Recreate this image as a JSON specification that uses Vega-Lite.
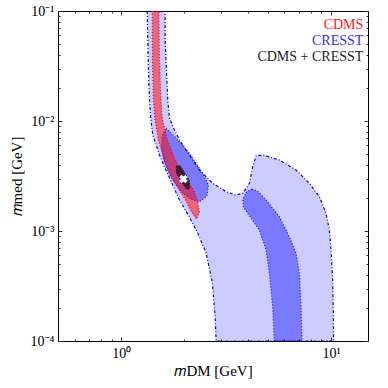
{
  "$schema": "https://vega.github.io/schema/vega-lite/v6.json",
  "autosize": "none",
  "width": 310,
  "height": 330,
  "padding": {"left": 58, "top": 11, "right": 20, "bottom": 47},
  "background": "white",
  "config": {"view": {"stroke": null}},
  "datasets": {
    "outer": [
      {"i": 1, "mdm": 1.330, "mmed": 0.1},
      {"i": 2, "mdm": 1.339, "mmed": 0.05451},
      {"i": 3, "mdm": 1.349, "mmed": 0.02908},
      {"i": 4, "mdm": 1.364, "mmed": 0.01552},
      {"i": 5, "mdm": 1.386, "mmed": 0.01021},
      {"i": 6, "mdm": 1.414, "mmed": 0.007459},
      {"i": 7, "mdm": 1.468, "mmed": 0.006049},
      {"i": 8, "mdm": 1.522, "mmed": 0.004908},
      {"i": 9, "mdm": 1.608, "mmed": 0.003818},
      {"i": 10, "mdm": 1.717, "mmed": 0.002908},
      {"i": 11, "mdm": 1.895, "mmed": 0.001913},
      {"i": 12, "mdm": 2.115, "mmed": 0.001341},
      {"i": 13, "mdm": 2.316, "mmed": 0.000953},
      {"i": 14, "mdm": 2.540, "mmed": 0.000631},
      {"i": 15, "mdm": 2.721, "mmed": 0.0003368},
      {"i": 16, "mdm": 2.803, "mmed": 0.0001652},
      {"i": 17, "mdm": 2.834, "mmed": 0.0001},
      {"i": 18, "mdm": 10.29, "mmed": 0.0001},
      {"i": 19, "mdm": 10.26, "mmed": 0.0001652},
      {"i": 20, "mdm": 10.18, "mmed": 0.0003584},
      {"i": 21, "mdm": 10.0, "mmed": 0.0006719},
      {"i": 22, "mdm": 9.815, "mmed": 0.001021},
      {"i": 23, "mdm": 9.467, "mmed": 0.001448},
      {"i": 24, "mdm": 8.797, "mmed": 0.00205},
      {"i": 25, "mdm": 7.883, "mmed": 0.002714},
      {"i": 26, "mdm": 6.813, "mmed": 0.003585},
      {"i": 27, "mdm": 5.673, "mmed": 0.004419},
      {"i": 28, "mdm": 4.725, "mmed": 0.004908},
      {"i": 29, "mdm": 4.394, "mmed": 0.004806},
      {"i": 30, "mdm": 4.233, "mmed": 0.003841},
      {"i": 31, "mdm": 4.083, "mmed": 0.002714},
      {"i": 32, "mdm": 3.794, "mmed": 0.002202},
      {"i": 33, "mdm": 3.502, "mmed": 0.002125},
      {"i": 34, "mdm": 3.162, "mmed": 0.002277},
      {"i": 35, "mdm": 2.731, "mmed": 0.002714},
      {"i": 36, "mdm": 2.359, "mmed": 0.003585},
      {"i": 37, "mdm": 2.115, "mmed": 0.004908},
      {"i": 38, "mdm": 1.895, "mmed": 0.006721},
      {"i": 39, "mdm": 1.794, "mmed": 0.008282},
      {"i": 40, "mdm": 1.698, "mmed": 0.01065},
      {"i": 41, "mdm": 1.667, "mmed": 0.01552},
      {"i": 42, "mdm": 1.643, "mmed": 0.02908},
      {"i": 43, "mdm": 1.620, "mmed": 0.05451},
      {"i": 44, "mdm": 1.620, "mmed": 0.1},
      {"i": 45, "mdm": 1.330, "mmed": 0.1}
    ],
    "blob": [
      {"i": 1, "mdm": 1.638, "mmed": 0.008584},
      {"i": 2, "mdm": 1.827, "mmed": 0.007007},
      {"i": 3, "mdm": 2.115, "mmed": 0.005087},
      {"i": 4, "mdm": 2.446, "mmed": 0.003345},
      {"i": 5, "mdm": 2.604, "mmed": 0.002619},
      {"i": 6, "mdm": 2.562, "mmed": 0.00208},
      {"i": 7, "mdm": 2.359, "mmed": 0.001846},
      {"i": 8, "mdm": 2.138, "mmed": 0.001954},
      {"i": 9, "mdm": 1.916, "mmed": 0.00231},
      {"i": 10, "mdm": 1.736, "mmed": 0.003033},
      {"i": 11, "mdm": 1.608, "mmed": 0.00415},
      {"i": 12, "mdm": 1.555, "mmed": 0.005683},
      {"i": 13, "mdm": 1.573, "mmed": 0.007459},
      {"i": 14, "mdm": 1.638, "mmed": 0.008584}
    ],
    "band": [
      {"i": 1, "mdm": 4.196, "mmed": 0.002409},
      {"i": 2, "mdm": 3.951, "mmed": 0.002262},
      {"i": 3, "mdm": 3.802, "mmed": 0.001954},
      {"i": 4, "mdm": 3.823, "mmed": 0.001652},
      {"i": 5, "mdm": 4.008, "mmed": 0.001448},
      {"i": 6, "mdm": 4.556, "mmed": 0.001021},
      {"i": 7, "mdm": 4.903, "mmed": 0.0006719},
      {"i": 8, "mdm": 5.084, "mmed": 0.0004125},
      {"i": 9, "mdm": 5.271, "mmed": 0.000205},
      {"i": 10, "mdm": 5.37, "mmed": 0.0001},
      {"i": 11, "mdm": 7.276, "mmed": 0.0001},
      {"i": 12, "mdm": 7.197, "mmed": 0.000205},
      {"i": 13, "mdm": 7.063, "mmed": 0.0004125},
      {"i": 14, "mdm": 6.813, "mmed": 0.0006271},
      {"i": 15, "mdm": 6.331, "mmed": 0.0008877},
      {"i": 16, "mdm": 5.673, "mmed": 0.001349},
      {"i": 17, "mdm": 4.903, "mmed": 0.001913},
      {"i": 18, "mdm": 4.457, "mmed": 0.00231},
      {"i": 19, "mdm": 4.196, "mmed": 0.002409}
    ],
    "cdms": [
      {"i": 1, "mdm": 1.405, "mmed": 0.1},
      {"i": 2, "mdm": 1.409, "mmed": 0.03585},
      {"i": 3, "mdm": 1.425, "mmed": 0.01552},
      {"i": 4, "mdm": 1.449, "mmed": 0.01021},
      {"i": 5, "mdm": 1.505, "mmed": 0.006721},
      {"i": 6, "mdm": 1.608, "mmed": 0.004419},
      {"i": 7, "mdm": 1.717, "mmed": 0.003229},
      {"i": 8, "mdm": 1.895, "mmed": 0.002359},
      {"i": 9, "mdm": 2.024, "mmed": 0.001913},
      {"i": 10, "mdm": 2.162, "mmed": 0.001488},
      {"i": 11, "mdm": 2.283, "mmed": 0.001285},
      {"i": 12, "mdm": 2.359, "mmed": 0.001488},
      {"i": 13, "mdm": 2.308, "mmed": 0.001913},
      {"i": 14, "mdm": 2.209, "mmed": 0.002359},
      {"i": 15, "mdm": 2.001, "mmed": 0.003229},
      {"i": 16, "mdm": 1.813, "mmed": 0.004419},
      {"i": 17, "mdm": 1.661, "mmed": 0.006721},
      {"i": 18, "mdm": 1.573, "mmed": 0.01021},
      {"i": 19, "mdm": 1.547, "mmed": 0.01552},
      {"i": 20, "mdm": 1.522, "mmed": 0.03585},
      {"i": 21, "mdm": 1.51, "mmed": 0.1},
      {"i": 22, "mdm": 1.405, "mmed": 0.1}
    ],
    "combo": [
      {"i": 1, "mdm": 1.833, "mmed": 0.003899},
      {"i": 2, "mdm": 1.916, "mmed": 0.003899},
      {"i": 3, "mdm": 2.001, "mmed": 0.003438},
      {"i": 4, "mdm": 2.115, "mmed": 0.002848},
      {"i": 5, "mdm": 2.115, "mmed": 0.002409},
      {"i": 6, "mdm": 2.047, "mmed": 0.002409},
      {"i": 7, "mdm": 1.937, "mmed": 0.00279},
      {"i": 8, "mdm": 1.833, "mmed": 0.003368},
      {"i": 9, "mdm": 1.833, "mmed": 0.003899}
    ],
    "best": [{"mdm": 1.98, "mmed": 0.00297}],
    "labels": [
      {"label": "CDMS", "mdm": 14.25, "mmed": 0.06818},
      {"label": "CRESST", "mdm": 14.25, "mmed": 0.04909},
      {"label": "CDMS + CRESST", "mdm": 14.25, "mmed": 0.03511}
    ]
  },
  "layer": [
    {
      "data": {"name": "outer"},
      "mark": {"type": "line", "fill": "#0000ff", "fillOpacity": 0.2, "stroke": "#0000ff", "strokeWidth": 1.2, "strokeDash": [3, 2, 1, 2], "clip": true},
      "encoding": {
        "x": {"field": "mdm", "type": "quantitative", "scale": {"type": "log", "domain": [0.5, 15], "nice": false},
          "axis": {"orient": "bottom", "values": [1, 10], "labelExpr": "datum.value < 5 ? '10⁰' : '10¹'", "tickSize": -4, "tickColor": "#333", "domainColor": "black", "grid": false, "labelFont": "Liberation Serif", "labelFontSize": 14, "labelColor": "black", "labelPadding": 9, "title": "𝑚DM [GeV]", "titleFont": "Liberation Serif", "titleFontSize": 15, "titleFontWeight": "normal", "titleColor": "black", "titlePadding": 3}},
        "y": {"field": "mmed", "type": "quantitative", "scale": {"type": "log", "domain": [0.0001, 0.1], "nice": false},
          "axis": {"orient": "left", "values": [0.0001, 0.001, 0.01, 0.1], "labelExpr": "datum.value < 0.0005 ? '10⁻⁴' : datum.value < 0.005 ? '10⁻³' : datum.value < 0.05 ? '10⁻²' : '10⁻¹'", "tickSize": -4, "tickColor": "#333", "domainColor": "black", "grid": false, "labelFont": "Liberation Serif", "labelFontSize": 14, "labelColor": "black", "labelPadding": 8, "title": "𝑚med [GeV]", "titleFont": "Liberation Serif", "titleFontSize": 15, "titleFontWeight": "normal", "titleColor": "black", "titlePadding": 6}},
        "order": {"field": "i", "type": "quantitative"}
      }
    },
    {
      "data": {"name": "blob"},
      "mark": {"type": "line", "fill": "#0000ff", "fillOpacity": 0.4, "stroke": "#0000ff", "strokeWidth": 1.1, "strokeDash": [1, 2], "clip": true},
      "encoding": {
        "x": {"field": "mdm", "type": "quantitative", "scale": {"type": "log", "domain": [0.5, 15], "nice": false},
          "axis": {"orient": "bottom", "values": [0.6, 0.7, 0.8, 0.9, 2, 3, 4, 5, 6, 7, 8, 9], "labels": false, "tickSize": -2, "tickColor": "#333", "domain": false, "grid": false, "title": null}},
        "y": {"field": "mmed", "type": "quantitative", "scale": {"type": "log", "domain": [0.0001, 0.1], "nice": false},
          "axis": {"orient": "left", "values": [0.0002, 0.0003, 0.0004, 0.0005, 0.0006, 0.0007, 0.0008, 0.0009, 0.002, 0.003, 0.004, 0.005, 0.006, 0.007, 0.008, 0.009, 0.02, 0.03, 0.04, 0.05, 0.06, 0.07, 0.08, 0.09], "labels": false, "tickSize": -2, "tickColor": "#333", "domain": false, "grid": false, "title": null}},
        "order": {"field": "i", "type": "quantitative"}
      }
    },
    {
      "data": {"name": "band"},
      "mark": {"type": "line", "fill": "#0000ff", "fillOpacity": 0.4, "stroke": "#0000ff", "strokeWidth": 1.1, "strokeDash": [1, 2], "clip": true},
      "encoding": {
        "x": {"field": "mdm", "type": "quantitative", "scale": {"type": "log", "domain": [0.5, 15], "nice": false},
          "axis": {"orient": "top", "values": [1, 10], "labels": false, "tickSize": -4, "tickColor": "#333", "domainColor": "black", "grid": false, "title": null}},
        "y": {"field": "mmed", "type": "quantitative", "scale": {"type": "log", "domain": [0.0001, 0.1], "nice": false},
          "axis": {"orient": "right", "values": [0.0001, 0.001, 0.01, 0.1], "labels": false, "tickSize": -4, "tickColor": "#333", "domainColor": "black", "grid": false, "title": null}},
        "order": {"field": "i", "type": "quantitative"}
      }
    },
    {
      "data": {"name": "cdms"},
      "mark": {"type": "line", "fill": "#ff0000", "fillOpacity": 0.5, "stroke": "#ff0000", "strokeWidth": 1.2, "strokeDash": [1, 2], "clip": true},
      "encoding": {
        "x": {"field": "mdm", "type": "quantitative", "scale": {"type": "log", "domain": [0.5, 15], "nice": false},
          "axis": {"orient": "top", "values": [0.6, 0.7, 0.8, 0.9, 2, 3, 4, 5, 6, 7, 8, 9], "labels": false, "tickSize": -2, "tickColor": "#333", "domain": false, "grid": false, "title": null}},
        "y": {"field": "mmed", "type": "quantitative", "scale": {"type": "log", "domain": [0.0001, 0.1], "nice": false},
          "axis": {"orient": "right", "values": [0.0002, 0.0003, 0.0004, 0.0005, 0.0006, 0.0007, 0.0008, 0.0009, 0.002, 0.003, 0.004, 0.005, 0.006, 0.007, 0.008, 0.009, 0.02, 0.03, 0.04, 0.05, 0.06, 0.07, 0.08, 0.09], "labels": false, "tickSize": -2, "tickColor": "#333", "domain": false, "grid": false, "title": null}},
        "order": {"field": "i", "type": "quantitative"}
      }
    },
    {
      "data": {"name": "combo"},
      "mark": {"type": "line", "fill": "#000000", "fillOpacity": 0.6, "stroke": "#000000", "strokeWidth": 1, "strokeDash": [1, 2], "clip": true},
      "encoding": {
        "x": {"field": "mdm", "type": "quantitative", "scale": {"type": "log", "domain": [0.5, 15], "nice": false}, "axis": null},
        "y": {"field": "mmed", "type": "quantitative", "scale": {"type": "log", "domain": [0.0001, 0.1], "nice": false}, "axis": null},
        "order": {"field": "i", "type": "quantitative"}
      }
    },
    {
      "data": {"name": "best"},
      "mark": {"type": "point", "shape": "cross", "angle": 45, "filled": true, "color": "white", "size": 75, "opacity": 1},
      "encoding": {
        "x": {"field": "mdm", "type": "quantitative", "scale": {"type": "log", "domain": [0.5, 15], "nice": false}, "axis": null},
        "y": {"field": "mmed", "type": "quantitative", "scale": {"type": "log", "domain": [0.0001, 0.1], "nice": false}, "axis": null}
      }
    },
    {
      "data": {"name": "labels"},
      "mark": {"type": "text", "align": "right", "baseline": "alphabetic", "font": "Liberation Serif", "fontSize": 14},
      "encoding": {
        "x": {"field": "mdm", "type": "quantitative", "scale": {"type": "log", "domain": [0.5, 15], "nice": false}, "axis": null},
        "y": {"field": "mmed", "type": "quantitative", "scale": {"type": "log", "domain": [0.0001, 0.1], "nice": false}, "axis": null},
        "text": {"field": "label"},
        "color": {"field": "label", "type": "nominal", "scale": {"domain": ["CDMS", "CRESST", "CDMS + CRESST"], "range": ["#ff2020", "#3030ff", "#222222"]}, "legend": null}
      }
    }
  ],
  "resolve": {"axis": {"x": "independent", "y": "independent"}}
}
